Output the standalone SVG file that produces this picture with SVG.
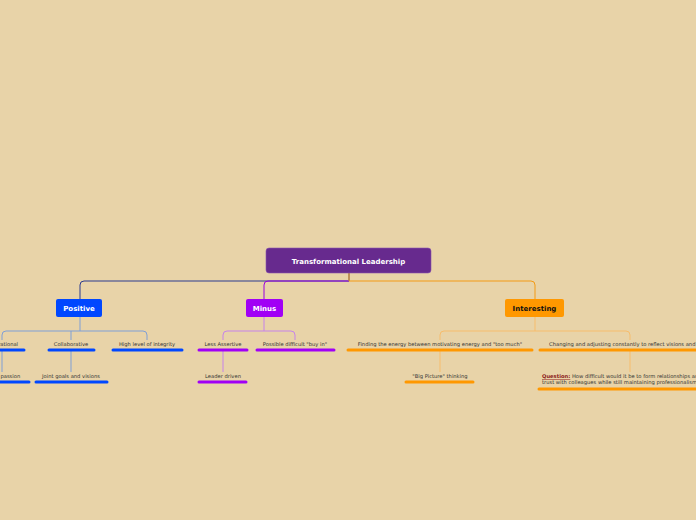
<svg xmlns="http://www.w3.org/2000/svg" width="696" height="520" viewBox="0 0 696 520">
<style>
.t{font-family:"DejaVu Sans","Liberation Sans",sans-serif;font-size:5.2px;fill:#333;text-anchor:middle}
.s{text-anchor:start}
.m{font-family:"DejaVu Sans","Liberation Sans",sans-serif;font-size:7px;font-weight:bold;text-anchor:middle}
.c{fill:none;stroke-width:1}
.u{stroke-width:3;stroke-linecap:round}
</style>
<rect width="696" height="520" fill="#e8d3a8"/>
<g id="connectors">
<path class="c" stroke="#2a3a8f" d="M349,273V281H84Q80,281 80,285V299"/>
<path class="c" stroke="#9b00e0" d="M349,281H268Q264,281 264,285V299"/>
<path class="c" stroke="#f39a14" d="M349,273V281H531Q535,281 535,285V299"/>
<path class="c" stroke="#7f9fd6" d="M80,317V331M6,331H143Q147,331 147,335V340M6,331Q2,331 2,335V340M71,331V340M2,350V372M71,350V372"/>
<path class="c" stroke="#c683ea" d="M264,317V331M227,331H291Q295,331 295,335V340M227,331Q223,331 223,335V340M223,350V372"/>
<path class="c" stroke="#f7bd6c" d="M535,317V331M444,331H626Q630,331 630,335V340M444,331Q440,331 440,335V340M440,350V372M630,350V372"/>
</g>
<g id="root"><rect x="266" y="248" width="165" height="25" rx="3" fill="#672a8e" stroke="#8a55b0" stroke-width="0.6"/><text class="m" x="348.5" y="264" fill="#fff" font-size="8.5">Transformational Leadership</text></g>
<g id="positive"><rect x="56" y="299" width="46" height="18" rx="2" fill="#0047ff"/><text class="m" x="79" y="311" fill="#fff">Positive</text></g>
<g id="minus"><rect x="246" y="299" width="37" height="18" rx="2" fill="#a100f5"/><text class="m" x="264.5" y="311" fill="#fff">Minus</text></g>
<g id="interesting"><rect x="505" y="299" width="59" height="18" rx="2" fill="#ff9800"/><text class="m" x="534.5" y="311" fill="#111">Interesting</text></g>
<g id="inspirational"><text class="t" x="2" y="346">Inspirational</text><line class="u" x1="-5" y1="350" x2="24" y2="350" stroke="#0047ff"/></g>
<g id="passion"><text class="t" x="2" y="378">Share passion</text><line class="u" x1="-20" y1="382" x2="29" y2="382" stroke="#0047ff"/></g>
<g id="collab"><text class="t" x="71" y="346">Collaborative</text><line class="u" x1="49" y1="350" x2="94" y2="350" stroke="#0047ff"/></g>
<g id="joint"><text class="t" x="71" y="378">Joint goals and visions</text><line class="u" x1="36" y1="382" x2="107" y2="382" stroke="#0047ff"/></g>
<g id="integrity"><text class="t" x="147" y="346">High level of integrity</text><line class="u" x1="113" y1="350" x2="182" y2="350" stroke="#0047ff"/></g>
<g id="assertive"><text class="t" x="223" y="346">Less Assertive</text><line class="u" x1="199" y1="350" x2="247" y2="350" stroke="#a100f5"/></g>
<g id="leader"><text class="t" x="223" y="378">Leader driven</text><line class="u" x1="199" y1="382" x2="246" y2="382" stroke="#a100f5"/></g>
<g id="buyin"><text class="t" x="295" y="346">Possible difficult "buy in"</text><line class="u" x1="257" y1="350" x2="334" y2="350" stroke="#a100f5"/></g>
<g id="finding"><text class="t" x="440" y="346">Finding the energy between motivating energy and "too much"</text><line class="u" x1="348" y1="350" x2="532" y2="350" stroke="#ff9800"/></g>
<g id="bigpic"><text class="t" x="440" y="378">"Big Picture" thinking</text><line class="u" x1="406" y1="382" x2="473" y2="382" stroke="#ff9800"/></g>
<g id="changing"><text class="t" x="630" y="346">Changing and adjusting constantly to reflect visions and goals</text><line class="u" x1="540" y1="350" x2="720" y2="350" stroke="#ff9800"/></g>
<g id="question"><text class="t s" x="542" y="378"><tspan fill="#8b1a1a" font-weight="bold" text-decoration="underline">Question:</tspan> How difficult would it be to form relationships and build</text><text class="t s" x="542" y="384">trust with colleagues while still maintaining professionalism?</text><line class="u" x1="539" y1="389" x2="720" y2="389" stroke="#ff9800"/></g>
</svg>
